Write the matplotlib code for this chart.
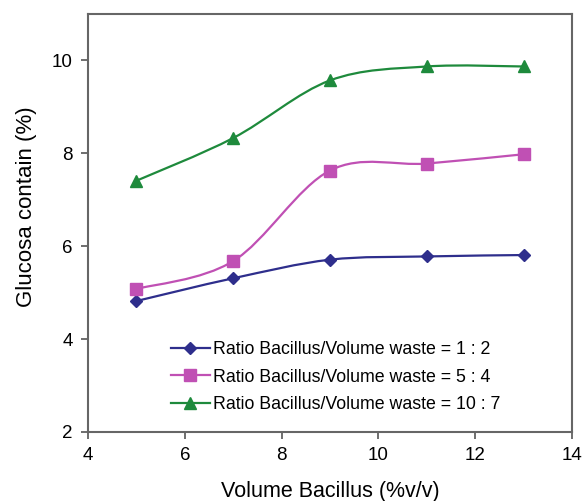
import numpy as np
import matplotlib
matplotlib.use("Agg")
from matplotlib import pyplot as plt
from matplotlib.path import Path
from matplotlib.patches import PathPatch
from matplotlib.lines import Line2D

plt.rcParams["font.family"] = ["Liberation Sans", "DejaVu Sans"]

volume = [5, 7, 9, 11, 13]
ratio_1_2 = [4.82, 5.31, 5.71, 5.78, 5.81]
ratio_5_4 = [5.08, 5.68, 7.63, 7.78, 7.98]
ratio_10_7 = [7.41, 8.33, 9.57, 9.87, 9.87]

labels = [
    "Ratio Bacillus/Volume waste = 1 : 2",
    "Ratio Bacillus/Volume waste = 5 : 4",
    "Ratio Bacillus/Volume waste = 10 : 7",
]
colors = ["#2e2e8c", "#c050b4", "#1e8a3c"]
markers = ["D", "s", "^"]
msizes = [6, 8, 9]


def smooth_path(x, y):
    # catmull-rom style bezier through the points (like excel smoothed lines)
    pts = np.column_stack([x, y]).astype(float)
    verts = [pts[0]]
    codes = [Path.MOVETO]
    n = len(pts)
    for i in range(n - 1):
        p0 = pts[i - 1] if i > 0 else pts[i]
        p1 = pts[i]
        p2 = pts[i + 1]
        p3 = pts[i + 2] if i + 2 < n else pts[i + 1]
        c1 = p1 + (p2 - p0) / 6.0
        c2 = p2 - (p3 - p1) / 6.0
        verts += [c1, c2, p2]
        codes += [Path.CURVE4] * 3
    return Path(verts, codes)


fig = plt.figure(figsize=(5.83, 5.01), dpi=100)
ax = fig.add_axes([88 / 583, 1 - 432 / 501, (572 - 88) / 583, (432 - 14) / 501])

handles = []
for ys, c, m, ms, lab in zip([ratio_1_2, ratio_5_4, ratio_10_7], colors, markers, msizes, labels):
    ax.add_patch(PathPatch(smooth_path(volume, ys), facecolor="none", edgecolor=c, lw=1.6))
    ax.plot(volume, ys, linestyle="none", marker=m, color=c, markersize=ms, zorder=3)
    handles.append(Line2D([], [], color=c, marker=m, markersize=ms, lw=1.6, label=lab))

ax.set_xlim(4, 14)
ax.set_ylim(2, 11)
ax.set_xticks([4, 6, 8, 10, 12, 14])
ax.set_yticks([2, 4, 6, 8, 10])
ax.tick_params(direction="out", length=5, width=1.2, color="#555555", labelsize=13.5, pad=6)
for s in ax.spines.values():
    s.set_color("#666666")
    s.set_linewidth(1.5)

ax.set_xlabel("Volume Bacillus (%v/v)", fontsize=15.5)
ax.xaxis.set_label_coords(0.5, -0.118)
ax.set_ylabel("Glucosa contain (%)", fontsize=16)
ax.yaxis.set_label_coords(-0.105, 0.54)

ax.legend(handles=handles, loc="upper left", bbox_to_anchor=(0.171, 0.218), frameon=False,
          borderpad=0, borderaxespad=0, fontsize=12.8, handlelength=2.2,
          handletextpad=0.15, labelspacing=0.6)

fig.savefig("out.png", dpi=100)
